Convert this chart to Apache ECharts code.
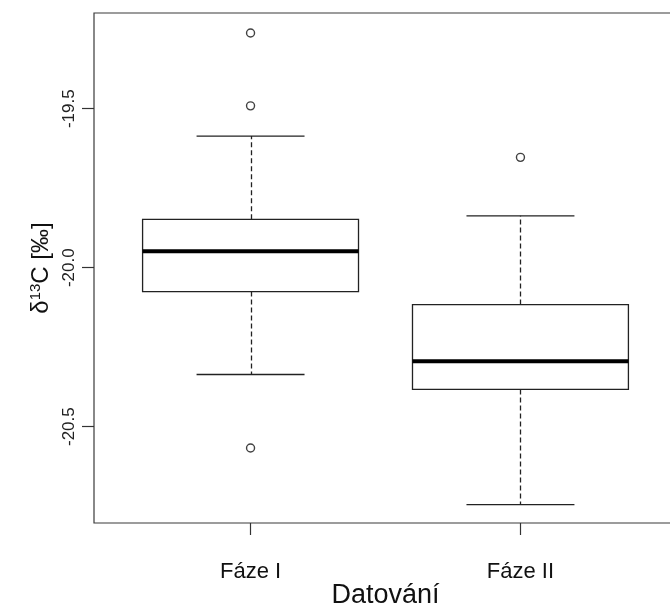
<!DOCTYPE html>
<html>
<head>
<meta charset="utf-8">
<script src="https://cdn.jsdelivr.net/npm/echarts@6/dist/echarts.min.js"></script>
<style>html,body{margin:0;padding:0;background:#fff;}#c{width:670px;height:605px;}</style>
</head>
<body>
<div id="c"></div>
<script>
// Data
const categories = ['Fáze I', 'Fáze II'];
const positions = [1, 2];
const lowerWhisker = [-20.336, -20.745];
const q1 = [-20.075, -20.383];
const median = [-19.948, -20.294];
const q3 = [-19.848, -20.116];
const upperWhisker = [-19.586, -19.837];
const outlierGroup = [1, 1, 1, 2];
const outlierValue = [-19.262, -19.491, -20.567, -19.653];
const yTicks = [-20.5, -20.0, -19.5];

const boxData = positions.map((p, i) => [p, lowerWhisker[i], q1[i], median[i], q3[i], upperWhisker[i]]);
const outlierData = outlierGroup.map((g, i) => [g, outlierValue[i]]);

const FONT = '"Liberation Sans", Arial, sans-serif';
const LINE = '#222';

function renderBox(params, api) {
  const x = api.value(0);
  const lo = api.coord([x, api.value(1)]);
  const b1 = api.coord([x, api.value(2)]);
  const md = api.coord([x, api.value(3)]);
  const b3 = api.coord([x, api.value(4)]);
  const hi = api.coord([x, api.value(5)]);
  const left = api.coord([x - 0.4, api.value(3)])[0];
  const right = api.coord([x + 0.4, api.value(3)])[0];
  const capL = api.coord([x - 0.2, api.value(3)])[0];
  const capR = api.coord([x + 0.2, api.value(3)])[0];
  const cx = Math.round(lo[0]) + 0.5;
  const solid = { stroke: LINE, lineWidth: 1.3, fill: null };
  const dashed = { stroke: LINE, lineWidth: 1.3, lineDash: [5, 3], fill: null };
  return {
    type: 'group',
    children: [
      { type: 'line', shape: { x1: cx, y1: b3[1], x2: cx, y2: hi[1] }, style: dashed },
      { type: 'line', shape: { x1: cx, y1: b1[1], x2: cx, y2: lo[1] }, style: dashed },
      { type: 'line', shape: { x1: capL, y1: hi[1], x2: capR, y2: hi[1] }, style: solid },
      { type: 'line', shape: { x1: capL, y1: lo[1], x2: capR, y2: lo[1] }, style: solid },
      { type: 'rect', shape: { x: left, y: b3[1], width: right - left, height: b1[1] - b3[1] },
        style: { stroke: LINE, lineWidth: 1.3, fill: '#fff' } },
      { type: 'line', shape: { x1: left, y1: md[1], x2: right, y2: md[1] },
        style: { stroke: '#000', lineWidth: 4 } }
    ]
  };
}

const chart = echarts.init(document.getElementById('c'), null, { renderer: 'canvas' });
chart.setOption({
  backgroundColor: '#fff',
  animation: false,
  grid: {
    left: 94, top: 13, width: 583, height: 510,
    containLabel: false, outerBoundsMode: 'none',
    show: true, borderColor: '#3a3a3a', borderWidth: 1.2, backgroundColor: 'transparent'
  },
  xAxis: {
    type: 'value', min: 0.42, max: 2.58,
    name: 'Datování', nameLocation: 'middle', nameGap: 59, nameMoveOverlap: false,
    nameTextStyle: { fontFamily: FONT, fontSize: 27, color: '#111' },
    axisLine: { show: false },
    splitLine: { show: false },
    axisTick: { show: true, length: 12, customValues: positions, lineStyle: { color: '#333', width: 1.2 } },
    axisLabel: {
      customValues: positions, margin: 38,
      fontFamily: FONT, fontSize: 22, color: '#111',
      formatter: v => categories[Math.round(v) - 1]
    }
  },
  yAxis: {
    type: 'value', min: -20.803, max: -19.199,
    name: 'δ{sup|13}C [‰]', nameLocation: 'middle', nameGap: 39, nameRotate: 90,
    nameTextStyle: {
      fontFamily: FONT, fontSize: 24, color: '#111',
      rich: { sup: { fontFamily: FONT, fontSize: 15, color: '#111', verticalAlign: 'top', padding: [0, 0, 10, 0] } }
    },
    axisLine: { show: false },
    splitLine: { show: false },
    axisTick: { show: true, length: 12, customValues: yTicks, lineStyle: { color: '#333', width: 1.2 } },
    axisLabel: {
      customValues: yTicks, rotate: 90, margin: 16,
      fontFamily: FONT, fontSize: 17, color: '#222',
      formatter: v => v.toFixed(1)
    }
  },
  series: [
    {
      type: 'custom',
      renderItem: renderBox,
      encode: { x: 0, y: [1, 2, 3, 4, 5] },
      data: boxData,
      clip: false,
      z: 2
    },
    {
      type: 'scatter',
      data: outlierData,
      symbol: 'circle',
      symbolSize: 8,
      itemStyle: { color: '#fff', borderColor: '#111', borderWidth: 1.4 },
      z: 3
    }
  ]
});
</script>
</body>
</html>
